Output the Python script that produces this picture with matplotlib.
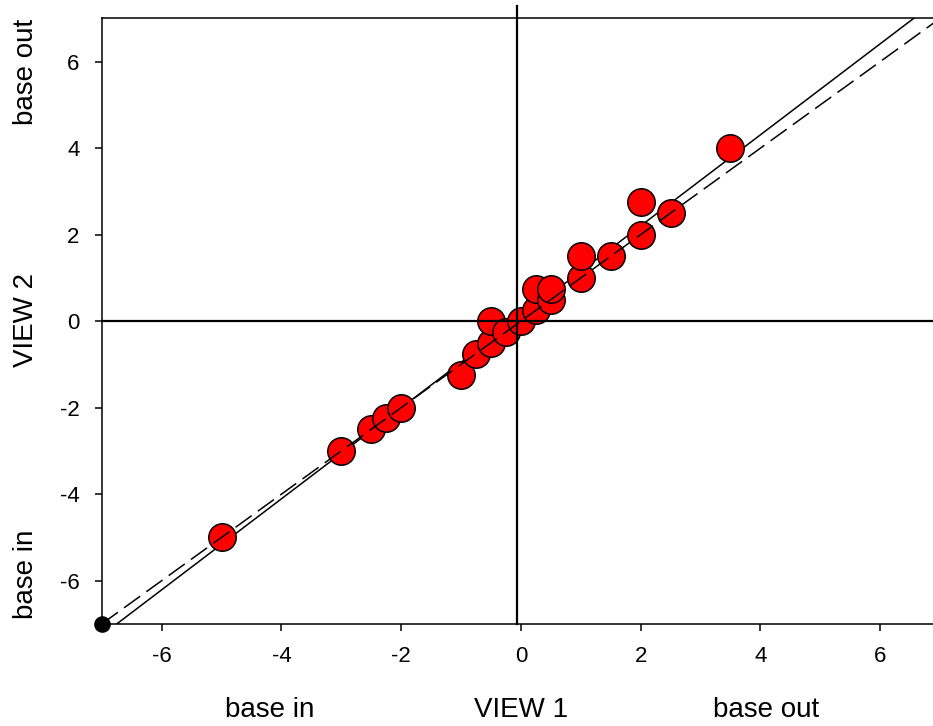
import matplotlib
matplotlib.use("Agg")
import matplotlib.pyplot as plt
import numpy as np

plt.rcParams['font.family'] = ['Liberation Sans', 'DejaVu Sans']

# Data
view1 = [-5, -3, -2.5, -2.25, -2, -1, -0.75, -0.5, -0.5, -0.25, 0, 0.25, 0.25, 0.5, 0.5, 1, 1, 1.5, 2, 2, 2.5, 3.5]
view2 = [-5, -3, -2.5, -2.25, -2, -1.25, -0.75, -0.5, 0, -0.25, 0, 0.25, 0.75, 0.5, 0.75, 1, 1.5, 1.5, 2, 2.75, 2.5, 4]
fit_slope = 1.052
fit_intercept = 0.10
origin_point = (-7, -7)
vline_x = -0.06
hline_y = 0.0
ticks = [-6, -4, -2, 0, 2, 4, 6]
lims = (-7, 7)

W, H = 933, 726
fig = plt.figure(figsize=(W / 100, H / 100), dpi=100)
left, right, bottom, top = 101.8, 939.9, 623.9, 18.5
ax = fig.add_axes([left / W, (H - bottom) / H, (right - left) / W, (bottom - top) / H])

ax.set_xlim(*lims)
ax.set_ylim(*lims)

xs = np.array(lims, dtype=float)
# regression line (under points)
ax.plot(xs, fit_slope * xs + fit_intercept, color='black', lw=1.1, zorder=2)
# points
ax.scatter(view1, view2, s=390, c='#ff0000', edgecolors='black', linewidths=1.1, zorder=3)
# identity line (over points)
l, = ax.plot(xs, xs, color='black', lw=1.1, zorder=4)
l.set_dashes((13, 5))
# reference lines
ax.plot([vline_x, vline_x], [lims[0], 7.3], color='black', lw=1.6, zorder=5, clip_on=False)
ax.plot(list(lims), [hline_y, hline_y], color='black', lw=1.6, zorder=5)
# corner dot
ax.scatter([origin_point[0]], [origin_point[1]], s=120, c='black', zorder=6, clip_on=False)

ax.set_xticks(ticks)
ax.set_yticks(ticks)
ax.set_xticklabels([str(t) for t in ticks])
ax.set_yticklabels([str(t) for t in ticks])
ax.tick_params(direction='out', length=5, width=1.1, labelsize=16, pad=11)
for s in ['left', 'bottom', 'top']:
    ax.spines[s].set_linewidth(1.1)
ax.spines['right'].set_visible(False)

fs = 20
fig.text(270 / W, 1 - 710 / H, 'base in', ha='center', va='center', fontsize=fs)
fig.text(521 / W, 1 - 710 / H, 'VIEW 1', ha='center', va='center', fontsize=fs)
fig.text(766 / W, 1 - 710 / H, 'base out', ha='center', va='center', fontsize=fs)
fig.text(26 / W, 1 - 72 / H, 'base out', ha='center', va='center', fontsize=fs, rotation=90)
fig.text(26 / W, 1 - 320 / H, 'VIEW 2', ha='center', va='center', fontsize=fs, rotation=90)
fig.text(26 / W, 1 - 574 / H, 'base in', ha='center', va='center', fontsize=fs, rotation=90)

fig.savefig('out.png', dpi=100)
